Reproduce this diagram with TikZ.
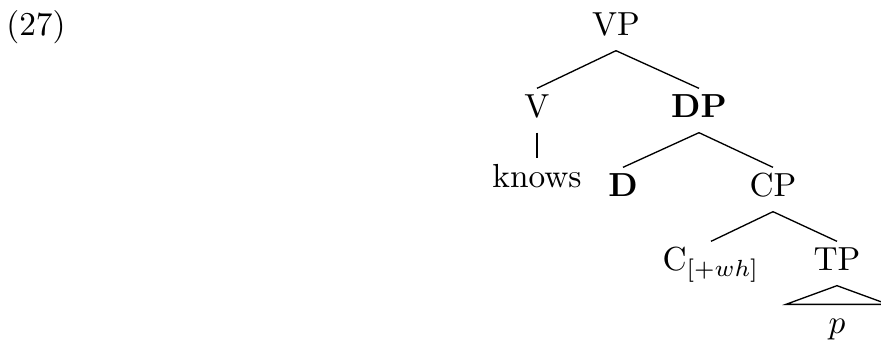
\documentclass[tikz,border=0pt]{standalone}
\usepackage{amsmath, amssymb}
\usepackage{tikz}
\usetikzlibrary{calc, positioning}

\begin{document}
\begin{tikzpicture}[x=0.3pt, y=-0.3pt,
    cat/.style={anchor=base, inner xsep=0pt, inner ysep=0pt, text height=8.4pt, text depth=4.5pt},
    branch/.style={line width=0.4pt}]
    \useasboundingbox (0,0) rectangle (881,343);
    \node[anchor=base] (exnum) at (36,35) {(27)};
    \node[cat] (VP) at (616,35) {VP};
    \node[cat] (V) at (537,117) {V};
    \node[cat] (DP) at (699,117) {\textbf{DP}};
    \node[cat] (knows) at (537,187) {knows};
    \node[cat] (D) at (623,196) {\textbf{D}};
    \node[cat] (CP) at (773,196) {CP};
    \node[cat] (C) at (711,270) {C$_{[+wh]}$};
    \node[cat] (TP) at (837,270) {TP};
    \node[cat] (p) at (837,333) {$p$};
    \draw[branch] (VP.south) -- (V.north);
    \draw[branch] (VP.south) -- (DP.north);
    \draw[branch] (V.south) -- (knows.north);
    \draw[branch] (DP.south) -- (D.north);
    \draw[branch] (DP.south) -- (CP.north);
    \draw[branch] (CP.south) -- (C.north);
    \draw[branch] (CP.south) -- (TP.north);
    \draw[branch] (TP.south) -- ([xshift=-15.3pt]p.north) -- ([xshift=15.3pt]p.north) -- cycle;
  \end{tikzpicture}
\end{document}
